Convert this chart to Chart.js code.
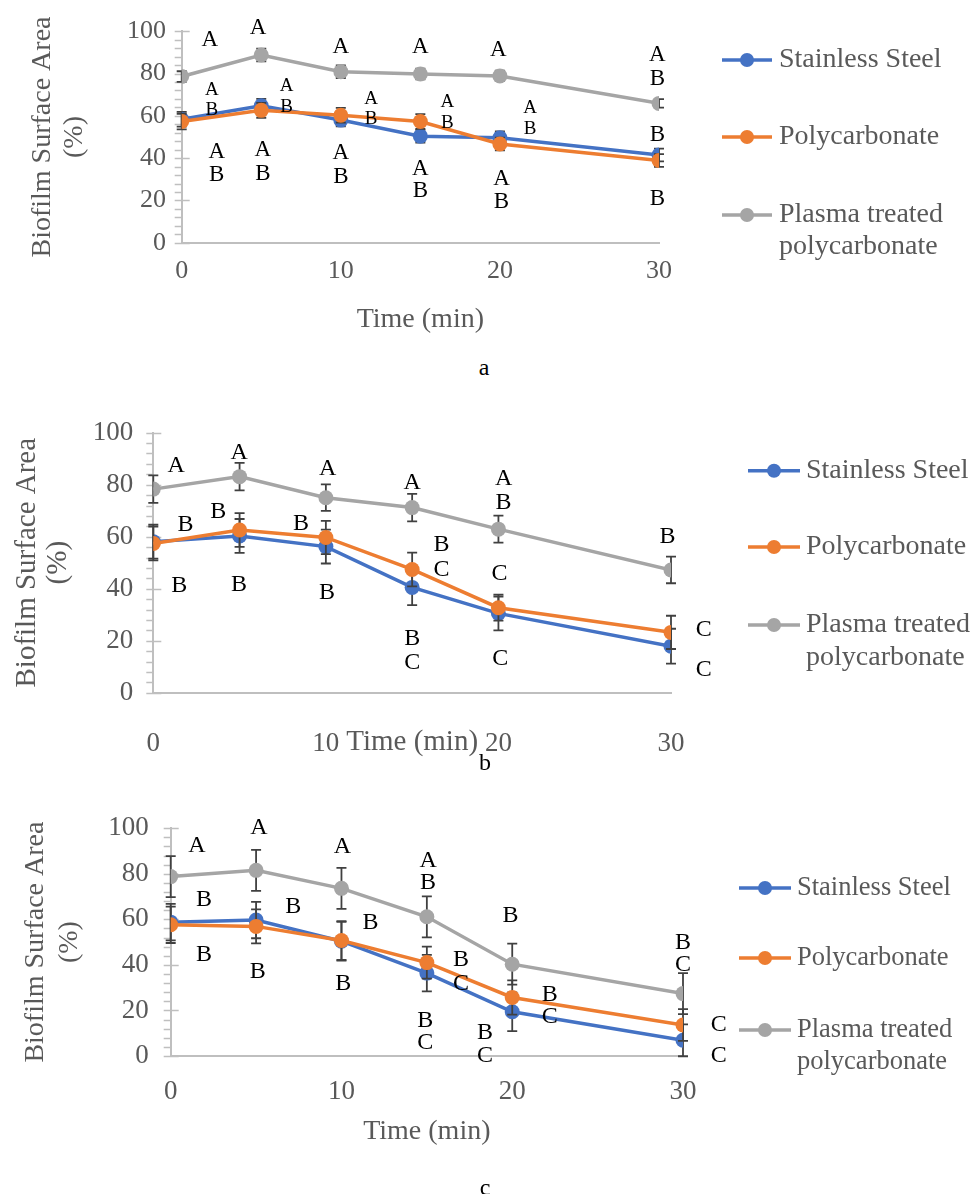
<!DOCTYPE html>
<html>
<head>
<meta charset="utf-8">
<script src="https://cdn.jsdelivr.net/npm/chart.js@4.4.1/dist/chart.umd.min.js"></script>
<style>
  body { margin: 0; background: #fff; width: 976px; height: 1194px; position: relative; overflow: hidden; }
  canvas { position: absolute; left: 0; }
  .cap { position: absolute; font-family: "Liberation Serif", serif; font-size: 24px; color: #000; transform: translate(-50%, -50%); }
</style>
</head>
<body>
<canvas id="chartA" width="976" height="345" style="top:0px"></canvas>
<canvas id="chartB" width="976" height="380" style="top:395px"></canvas>
<canvas id="chartC" width="976" height="404" style="top:790px"></canvas>
<div class="cap" style="left:484px;top:367px">a</div>
<div class="cap" style="left:485px;top:762px">b</div>
<div class="cap" style="left:485px;top:1187px">c</div>
<script>
// sampling times (min)
const times = [0, 5, 10, 15, 20, 30];
const seriesNames = ['Stainless Steel', 'Polycarbonate', ['Plasma treated', 'polycarbonate']];
const seriesColors = ['#4472C4', '#ED7D31', '#A5A5A5'];
const yTicks = [0, 20, 40, 60, 80, 100];
const xTicks = [0, 10, 20, 30];

// a
const steelA = [58.4, 64.8, 58.0, 50.4, 49.6, 41.5];
const polyA = [57.3, 62.6, 60.3, 57.3, 46.7, 38.9];
const plasmaA = [78.6, 88.8, 80.9, 79.8, 78.9, 65.9];
const steelErrA = [3.5, 3.2, 3, 3, 3, 3];
const polyErrA = [3.7, 3.5, 3.5, 3.5, 3, 3];
const plasmaErrA = [2.5, 3, 3, 2.5, 2.5, 2];
// significance letters [time, value, letter]
const lettersA = [
  [1.76, 95.8, 'A'], [4.8, 101.6, 'A'], [10, 92.7, 'A'], [15, 92.7, 'A'], [19.9, 91.3, 'A'],
  [29.9, 88.6, 'A'], [29.9, 77.3, 'B'], [29.9, 50.8, 'B'], [29.9, 20.8, 'B'],
  [2.2, 42.8, 'A'], [2.2, 32, 'B'], [5.1, 43.7, 'A'], [5.1, 32.5, 'B'], [10, 42.3, 'A'], [10, 31.1, 'B'],
  [15, 35, 'A'], [15, 24.4, 'B'], [20.1, 30, 'A'], [20.1, 19.4, 'B']
];
const smallLettersA = [
  [1.9, 72, 'A'], [1.9, 62.6, 'B'], [6.6, 74.3, 'A'], [6.6, 64.4, 'B'], [11.9, 68, 'A'], [11.9, 58.5, 'B'],
  [16.7, 66.6, 'A'], [16.7, 56.7, 'B'], [21.9, 63.5, 'A'], [21.9, 53.6, 'B']
];

// b
const steelB = [58.1, 60.3, 56.2, 40.5, 30.5, 17.9];
const polyB = [57.4, 62.6, 59.7, 47.4, 32.7, 23.2];
const plasmaB = [78.3, 83.1, 75.0, 71.2, 62.9, 47.2];
const steelErrB = [6.5, 6.5, 6.5, 6.8, 6.5, 6.7];
const polyErrB = [6.5, 6.5, 6.4, 6.5, 5, 6.4];
const plasmaErrB = [5.3, 5.3, 5.1, 5.3, 5.2, 5.1];
const lettersB = [
  [1.33, 87.2, 'A'], [4.97, 92.3, 'A'], [10.1, 86, 'A'], [15, 80.8, 'A'], [20.3, 82.4, 'A'], [20.3, 73.1, 'B'],
  [29.8, 60, 'B'], [1.86, 64.7, 'B'], [3.77, 69.6, 'B'], [8.56, 65.1, 'B'], [16.7, 56.8, 'B'], [16.7, 47.4, 'C'],
  [20.06, 45.9, 'C'], [1.5, 41, 'B'], [4.97, 41.7, 'B'], [10.07, 38.5, 'B'], [15, 20.9, 'B'], [15, 11.7, 'C'],
  [20.1, 13.2, 'C'], [31.9, 24.1, 'C'], [31.9, 8.7, 'C']
];

// c
const steelC = [58.75, 59.7, 50.4, 36.4, 19.4, 6.9];
const polyC = [57.6, 56.9, 50.7, 41.0, 25.7, 13.6];
const plasmaC = [78.75, 81.5, 73.6, 61.1, 40.3, 27.4];
const steelErrC = [8, 8, 8.5, 8, 8.5, 7];
const polyErrC = [8, 7.5, 8.5, 7, 7.5, 7];
const plasmaErrC = [9, 9, 9, 9, 9, 9];
const lettersC = [
  [1.53, 92.4, 'A'], [5.16, 100.4, 'A'], [10.05, 91.7, 'A'], [15.07, 85.7, 'A'], [15.07, 76, 'B'],
  [19.9, 61.5, 'B'], [30, 49.7, 'B'], [30, 39.9, 'C'], [1.95, 68.75, 'B'], [7.17, 65.7, 'B'], [11.7, 58.3, 'B'],
  [17, 42.4, 'B'], [17, 31.9, 'C'], [22.2, 27.1, 'B'], [22.2, 17.4, 'C'], [1.95, 44.4, 'B'], [5.1, 36.8, 'B'],
  [10.1, 31.9, 'B'], [14.9, 15.6, 'B'], [14.9, 6, 'C'], [18.4, 10.1, 'B'], [18.4, 0, 'C'], [32.1, 13.6, 'C'],
  [32.1, 0, 'C']
];

const SERIF = '"Liberation Serif", "Times New Roman", serif';
const AXIS_COLOR = '#BFBFBF';
const TEXT_COLOR = '#595959';

const extrasPlugin = (p) => ({
  id: 'extras',
  beforeDatasetsDraw(chart) {
    // y axis tick marks: majors cross the axis, minors sit outside
    const ctx = chart.ctx, ys = chart.scales.y, x0 = chart.chartArea.left;
    ctx.save();
    ctx.strokeStyle = AXIS_COLOR;
    ctx.lineWidth = 1.5;
    for (let v = 0; v <= 100; v += 4) {
      const y = Math.round(ys.getPixelForValue(v)) + 0.5;
      const major = yTicks.includes(v);
      ctx.beginPath();
      ctx.moveTo(x0 - 7, y);
      ctx.lineTo(major ? x0 + 8 : x0, y);
      ctx.stroke();
    }
    ctx.restore();
  },
  beforeDatasetDraw(chart, args) {
    // error bars under each series' own markers
    const ctx = chart.ctx, ys = chart.scales.y;
    const errs = p.errors[args.index];
    const vals = p.series[args.index];
    ctx.save();
    ctx.strokeStyle = '#404040';
    ctx.lineWidth = 1.8;
    args.meta.data.forEach((pt, i) => {
      const top = ys.getPixelForValue(vals[i] + errs[i]);
      const bot = ys.getPixelForValue(vals[i] - errs[i]);
      ctx.beginPath();
      ctx.moveTo(pt.x, top); ctx.lineTo(pt.x, bot);
      ctx.moveTo(pt.x - 5, top); ctx.lineTo(pt.x + 5, top);
      ctx.moveTo(pt.x - 5, bot); ctx.lineTo(pt.x + 5, bot);
      ctx.stroke();
    });
    ctx.restore();
  },
  afterDatasetsDraw(chart) {
    const ctx = chart.ctx, xs = chart.scales.x, ys = chart.scales.y;
    ctx.save();
    ctx.fillStyle = '#000';
    ctx.textAlign = 'center';
    ctx.textBaseline = 'middle';
    p.letters.forEach(([list, size]) => {
      ctx.font = size + 'px ' + SERIF;
      list.forEach(([t, v, s]) => ctx.fillText(s, xs.getPixelForValue(t), ys.getPixelForValue(v)));
    });
    ctx.restore();
  },
  afterDraw(chart) {
    // legend at the right
    const ctx = chart.ctx, lg = p.legend;
    ctx.save();
    ctx.font = lg.size + 'px ' + SERIF;
    ctx.textBaseline = 'middle';
    ctx.textAlign = 'left';
    seriesNames.forEach((name, i) => {
      const y = lg.rows[i];
      ctx.strokeStyle = seriesColors[i];
      ctx.lineWidth = 3.5;
      ctx.beginPath();
      ctx.moveTo(lg.x0, y); ctx.lineTo(lg.x1, y);
      ctx.stroke();
      ctx.fillStyle = seriesColors[i];
      ctx.beginPath();
      ctx.arc((lg.x0 + lg.x1) / 2, y, 7, 0, Math.PI * 2);
      ctx.fill();
      ctx.fillStyle = TEXT_COLOR;
      const lines = Array.isArray(name) ? name : [name];
      lines.forEach((ln, k) => ctx.fillText(ln, lg.tx, y + k * lg.lineGap));
    });
    ctx.restore();
  }
});

const makeChart = (id, p) => {
  const canvas = document.getElementById(id);
  const H = canvas.height;
  const datasets = p.series.map((vals, i) => ({
    label: Array.isArray(seriesNames[i]) ? seriesNames[i].join(' ') : seriesNames[i],
    data: vals.map((v, k) => ({ x: times[k], y: v })),
    borderColor: seriesColors[i],
    backgroundColor: seriesColors[i],
    borderWidth: 3.5,
    pointRadius: 7.5,
    pointBorderWidth: 0,
    pointBackgroundColor: seriesColors[i],
    order: 2 - i
  }));
  return new Chart(canvas, {
    type: 'line',
    data: { datasets },
    plugins: [extrasPlugin(p)],
    options: {
      responsive: false,
      animation: false,
      events: [],
      layout: { padding: { left: 0, top: p.area.top, right: 976 - p.area.right, bottom: 0 } },
      plugins: { legend: { display: false }, tooltip: { enabled: false } },
      scales: {
        x: {
          type: 'linear', min: 0, max: 30,
          afterBuildTicks: s => { s.ticks = xTicks.map(v => ({ value: v })); },
          afterFit: s => { s.height = H - p.area.bottom; },
          grid: { display: false, drawTicks: false },
          border: { color: AXIS_COLOR, width: 2 },
          ticks: { color: TEXT_COLOR, padding: p.xTickPad, font: { family: SERIF, size: p.tickSize, lineHeight: 1.2 }, maxRotation: 0 },
          title: { display: true, text: 'Time (min)', color: TEXT_COLOR, padding: { top: 0, bottom: p.xTitlePad },
                   font: { family: SERIF, size: p.titleSize, lineHeight: 1.2 } }
        },
        y: {
          type: 'linear', min: 0, max: 100,
          afterBuildTicks: s => { s.ticks = yTicks.map(v => ({ value: v })); },
          afterFit: s => { s.width = p.area.left; },
          grid: { display: false, drawTicks: false },
          border: { color: AXIS_COLOR, width: 2 },
          ticks: { color: TEXT_COLOR, padding: p.yTickPad, font: { family: SERIF, size: p.tickSize, lineHeight: 1.2 } },
          title: { display: true, text: ['Biofilm Surface Area', '(%)'], color: TEXT_COLOR, padding: { top: p.yTitlePad, bottom: 0 },
                   font: { family: SERIF, size: p.titleSize, lineHeight: p.yTitleLh } }
        }
      }
    }
  });
};

makeChart('chartA', {
  series: [steelA, polyA, plasmaA],
  errors: [steelErrA, polyErrA, plasmaErrA],
  letters: [[lettersA, 23], [smallLettersA, 19]],
  area: { left: 181.7, right: 659, top: 20.7, bottom: 242.7 },
  tickSize: 26, titleSize: 28, yTitleLh: 1.15,
  xTickPad: 13, yTickPad: 15.7, xTitlePad: 8.8, yTitlePad: 26.8,
  legend: { x0: 722, x1: 772, tx: 779, size: 28, rows: [60, 137, 215], lineGap: 32 }
});

makeChart('chartB', {
  series: [steelB, polyB, plasmaB],
  errors: [steelErrB, polyErrB, plasmaErrB],
  letters: [[lettersB, 24]],
  area: { left: 153.3, right: 671, top: 37.7, bottom: 297.7 },
  tickSize: 27, titleSize: 29, yTitleLh: 1.1,
  xTickPad: 35, yTickPad: 20, xTitlePad: 14.8, yTitlePad: 11,
  legend: { x0: 748, x1: 800, tx: 806, size: 28, rows: [75.7, 152, 230], lineGap: 33 }
});

makeChart('chartC', {
  series: [steelC, polyC, plasmaC],
  errors: [steelErrC, polyErrC, plasmaErrC],
  letters: [[lettersC, 24]],
  area: { left: 170.7, right: 683, top: 24, bottom: 266 },
  tickSize: 27, titleSize: 28, yTitleLh: 1.2,
  xTickPad: 20, yTickPad: 22, xTitlePad: 45.8, yTitlePad: 19,
  legend: { x0: 739, x1: 791, tx: 797, size: 26.5, rows: [98, 168, 240], lineGap: 32 }
});
</script>
</body>
</html>
